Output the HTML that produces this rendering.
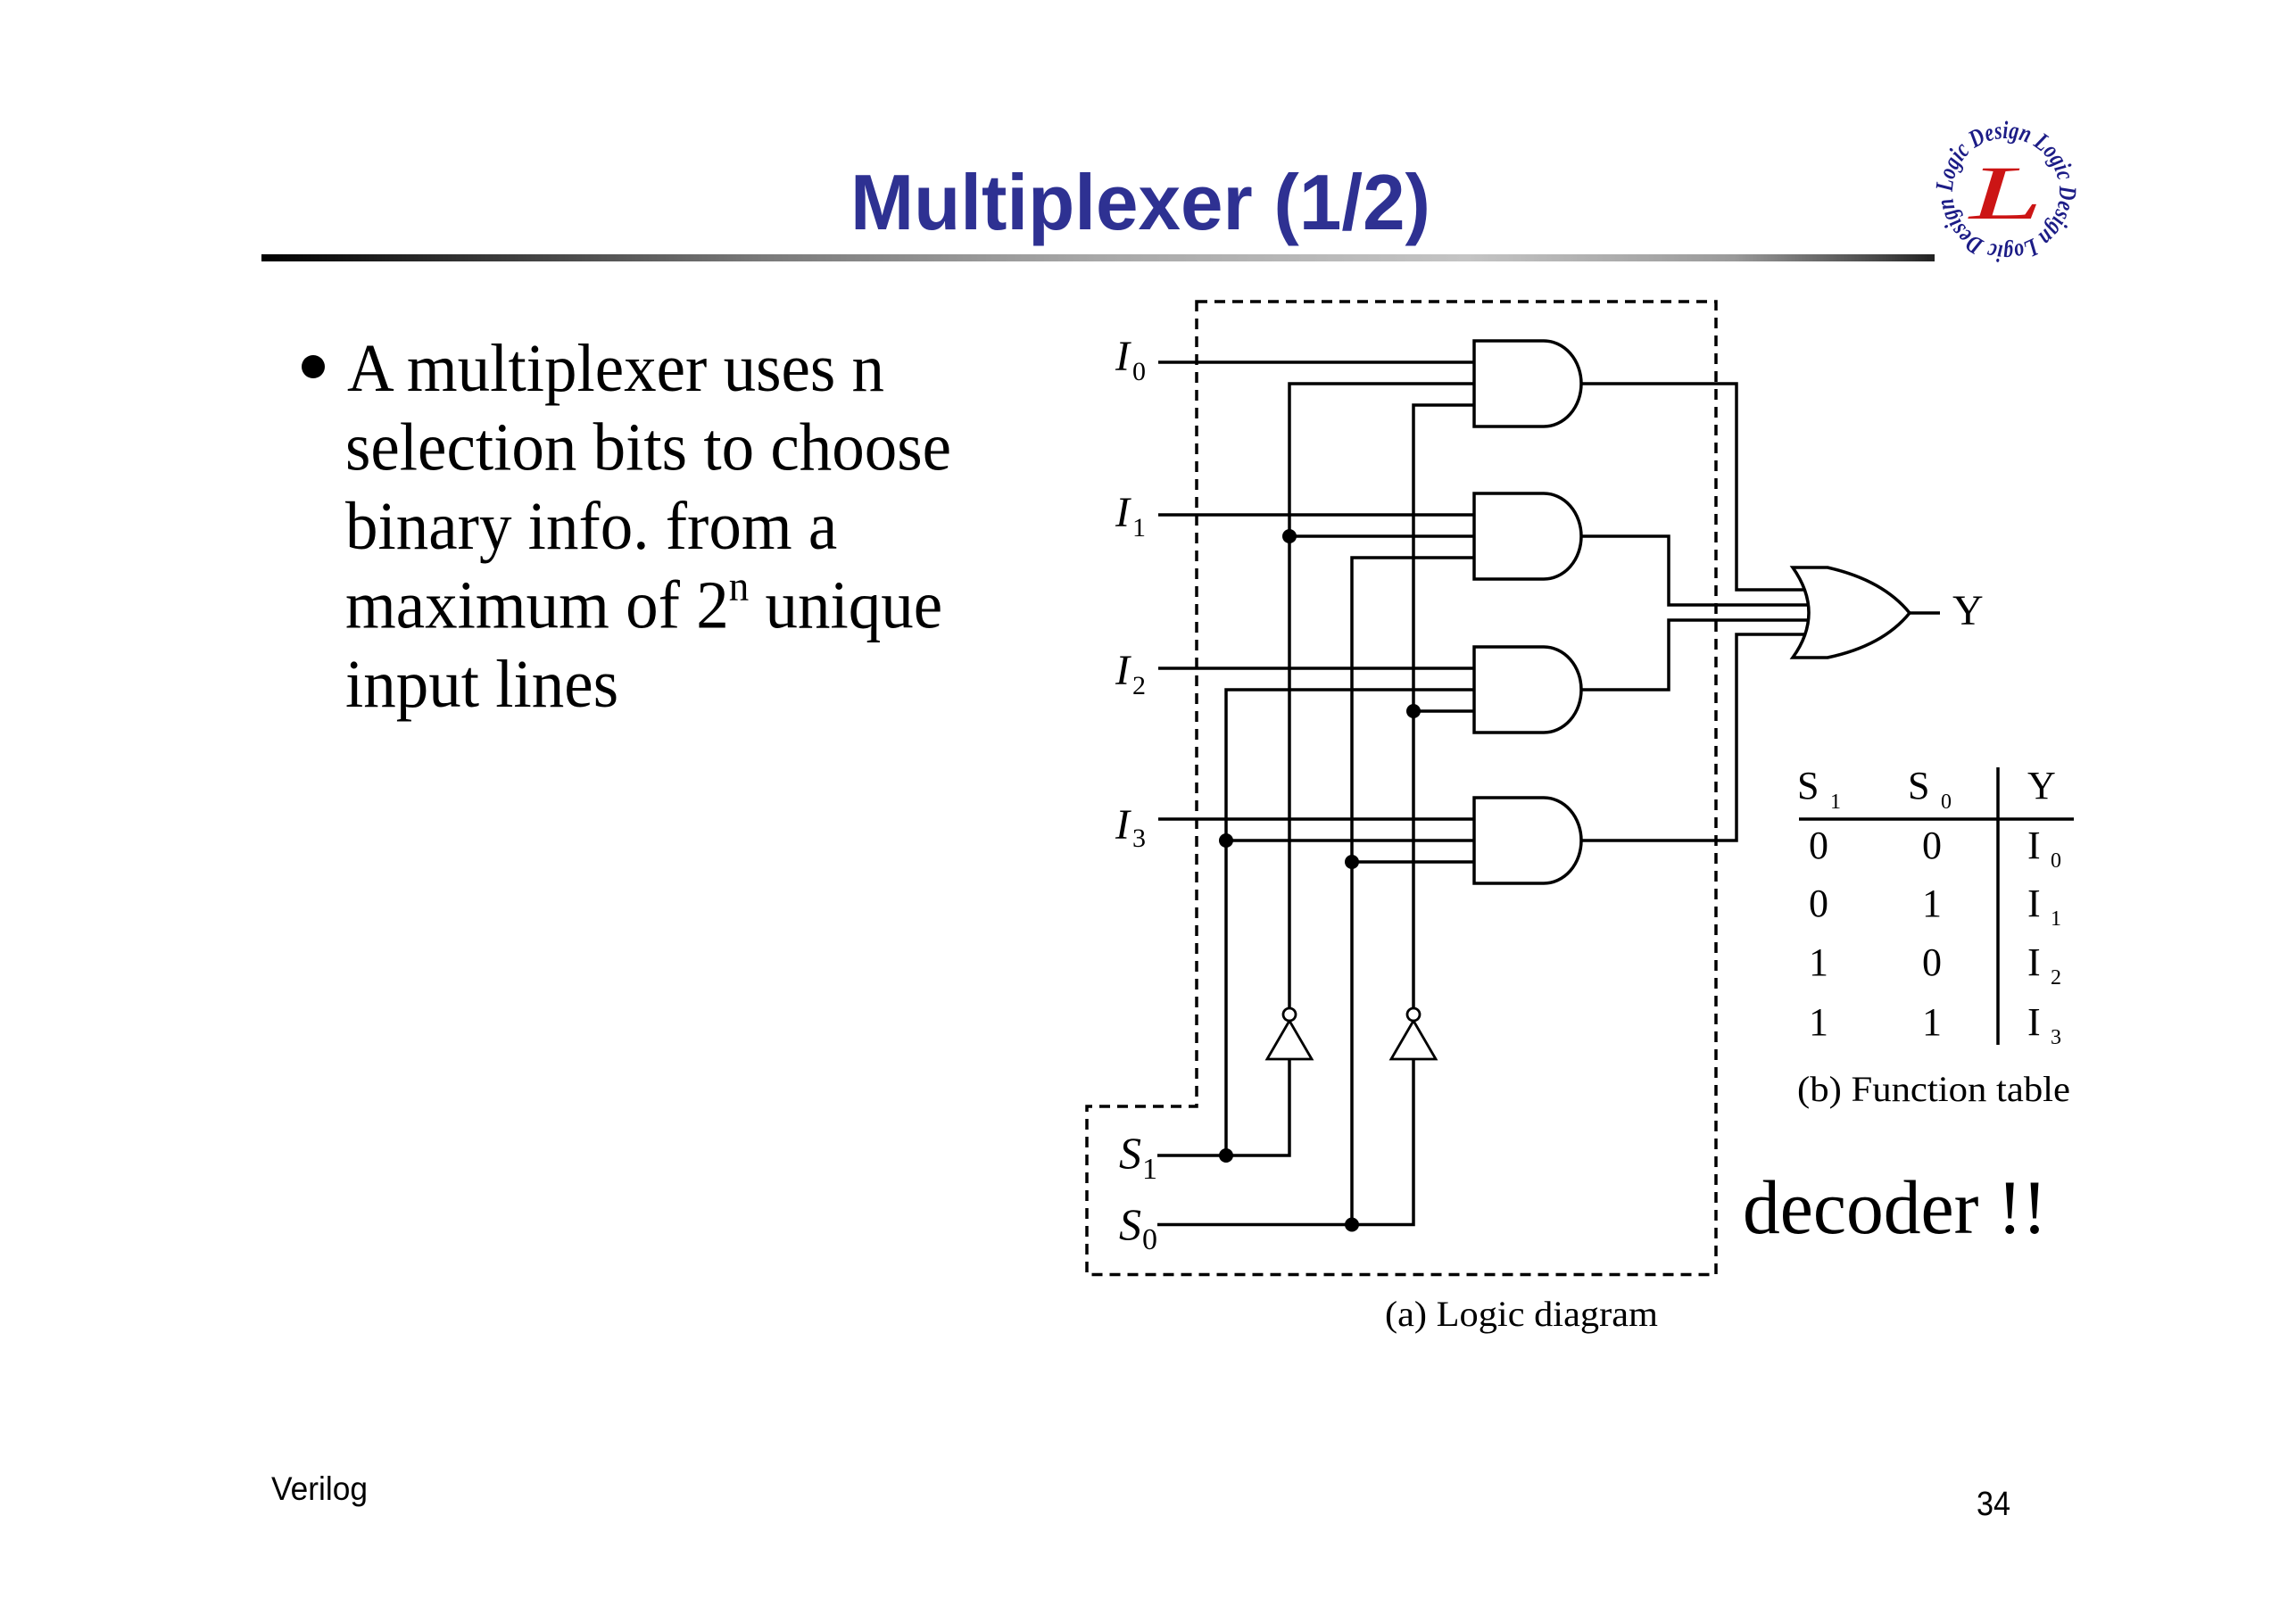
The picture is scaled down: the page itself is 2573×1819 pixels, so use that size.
<!DOCTYPE html>
<html>
<head>
<meta charset="utf-8">
<style>
html,body{margin:0;padding:0;background:#fff;}
svg{display:block;}
.serif{font-family:"Liberation Serif","Times New Roman",serif;}
.sans{font-family:"Liberation Sans",Arial,sans-serif;}
</style>
</head>
<body>
<svg width="2573" height="1819" viewBox="0 0 2573 1819" xmlns="http://www.w3.org/2000/svg">
<defs>
<linearGradient id="bar" x1="0" y1="0" x2="1" y2="0">
<stop offset="0" stop-color="#000"/>
<stop offset="0.08" stop-color="#222"/>
<stop offset="0.3" stop-color="#7a7a7a"/>
<stop offset="0.5" stop-color="#a8a8a8"/>
<stop offset="0.72" stop-color="#c4c4c4"/>
<stop offset="0.88" stop-color="#9a9a9a"/>
<stop offset="0.97" stop-color="#444"/>
<stop offset="1" stop-color="#222"/>
</linearGradient>
<path id="ring" d="M2188,215 A60,60 0 1,1 2308,215 A60,60 0 1,1 2188,215"/>
</defs>
<rect width="2573" height="1819" fill="#fff"/>

<!-- Title -->
<text class="sans" x="1278" y="257" font-size="88" font-weight="bold" fill="#2e3192" text-anchor="middle" textLength="650" lengthAdjust="spacingAndGlyphs">Multiplexer (1/2)</text>
<rect x="293" y="285" width="1875" height="8" fill="url(#bar)"/>

<!-- Logo -->
<text class="serif" font-size="28" font-style="italic" font-weight="bold" fill="#1c1c86"><textPath href="#ring" textLength="370" lengthAdjust="spacingAndGlyphs">Logic Design Logic Design Logic Design</textPath></text>
<text class="serif" x="2207" y="245" font-size="86" font-style="italic" fill="#cc1515" textLength="82" lengthAdjust="spacingAndGlyphs">L</text>

<!-- Bullet text -->
<circle cx="351" cy="411" r="13" fill="#000"/>
<g class="serif" font-size="73" fill="#000" transform="translate(0,438) scale(1,1.05)">
<text x="389" y="0">A multiplexer uses n</text>
<text x="387" y="84.3">selection bits to choose</text>
<text x="387" y="168.6">binary info. from a</text>
<text x="387" y="252.9">maximum of 2<tspan font-size="45" dy="-29">n</tspan><tspan dy="29"> unique</tspan></text>
<text x="387" y="337.1">input lines</text>
</g>

<!-- Dashed box -->
<path d="M1341,338 H1923 V1428.5 H1218 V1240 H1341 Z" fill="none" stroke="#000" stroke-width="3.5" stroke-dasharray="12 8"/>

<!-- Wires -->
<g fill="none" stroke="#000" stroke-width="3.5">
<path d="M1298,406 H1652"/>
<path d="M1298,577 H1652"/>
<path d="M1298,749 H1652"/>
<path d="M1298,918 H1652"/>
<path d="M1445,1130 V430 H1652"/>
<path d="M1584,1130 V454 H1652"/>
<path d="M1445,601 H1652"/>
<path d="M1515,1372.5 V625 H1652"/>
<path d="M1374,1295 V773 H1652"/>
<path d="M1584,797 H1652"/>
<path d="M1374,942 H1652"/>
<path d="M1515,966 H1652"/>
<path d="M1297,1295 H1445 V1187"/>
<path d="M1297,1372.5 H1584 V1187"/>
<path d="M1772,430 H1946 V661 H2030"/>
<path d="M1772,601 H1870 V678 H2032"/>
<path d="M1772,773 H1870 V695 H2032"/>
<path d="M1772,942 H1946 V711 H2030"/>
<path d="M2140,687 H2174"/>
</g>

<!-- AND gates -->
<g fill="#fff" stroke="#000" stroke-width="3.5">
<path d="M1652,382 H1730 A42,48 0 0 1 1730,478 H1652 Z"/>
<path d="M1652,553 H1730 A42,48 0 0 1 1730,649 H1652 Z"/>
<path d="M1652,725 H1730 A42,48 0 0 1 1730,821 H1652 Z"/>
<path d="M1652,894 H1730 A42,48 0 0 1 1730,990 H1652 Z"/>
<path d="M2009,636 H2048 Q2110,650 2140,687 Q2110,724 2048,737 H2009 Q2045,687 2009,636 Z"/>
</g>

<!-- Inverters -->
<g fill="#fff" stroke="#000" stroke-width="2.8">
<path d="M1445,1144 L1420,1187 H1470 Z"/>
<circle cx="1445" cy="1137" r="7"/>
<path d="M1584,1144 L1559,1187 H1609 Z"/>
<circle cx="1584" cy="1137" r="7"/>
</g>

<!-- Dots -->
<g fill="#000">
<circle cx="1445" cy="601" r="8"/>
<circle cx="1584" cy="797" r="8"/>
<circle cx="1374" cy="942" r="8"/>
<circle cx="1515" cy="966" r="8"/>
<circle cx="1374" cy="1295" r="8"/>
<circle cx="1515" cy="1372.5" r="8"/>
</g>

<!-- Input labels -->
<g class="serif" fill="#000">
<text x="1250" y="415" font-size="48" font-style="italic">I</text>
<text x="1269" y="426" font-size="30">0</text>
<text x="1250" y="590" font-size="48" font-style="italic">I</text>
<text x="1269" y="601" font-size="30">1</text>
<text x="1250" y="767" font-size="48" font-style="italic">I</text>
<text x="1269" y="778" font-size="30">2</text>
<text x="1250" y="940" font-size="48" font-style="italic">I</text>
<text x="1269" y="949" font-size="30">3</text>
<text x="1254" y="1309" font-size="50" font-style="italic">S</text>
<text x="1280" y="1321" font-size="34">1</text>
<text x="1254" y="1389" font-size="50" font-style="italic">S</text>
<text x="1280" y="1400" font-size="34">0</text>
<text x="2188" y="700" font-size="48">Y</text>
<text x="1552" y="1486" font-size="40" textLength="306" lengthAdjust="spacingAndGlyphs">(a) Logic diagram</text>
</g>

<!-- Function table -->
<g stroke="#000" stroke-width="3.5">
<line x1="2239" y1="860" x2="2239" y2="1171"/>
<line x1="2016" y1="918" x2="2324" y2="918"/>
</g>
<g class="serif" fill="#000">
<text x="2014" y="895" font-size="44">S</text>
<text x="2051" y="906" font-size="24">1</text>
<text x="2138" y="895" font-size="44">S</text>
<text x="2175" y="906" font-size="24">0</text>
<text x="2272" y="895" font-size="44">Y</text>
<g font-size="44" text-anchor="middle">
<text x="2038" y="962">0</text><text x="2165" y="962">0</text>
<text x="2038" y="1027">0</text><text x="2165" y="1027">1</text>
<text x="2038" y="1093">1</text><text x="2165" y="1093">0</text>
<text x="2038" y="1160">1</text><text x="2165" y="1160">1</text>
</g>
<text x="2272" y="962" font-size="44">I</text><text x="2298" y="972" font-size="24">0</text>
<text x="2272" y="1027" font-size="44">I</text><text x="2298" y="1037" font-size="24">1</text>
<text x="2272" y="1093" font-size="44">I</text><text x="2298" y="1103" font-size="24">2</text>
<text x="2272" y="1160" font-size="44">I</text><text x="2298" y="1170" font-size="24">3</text>
<text x="2014" y="1234" font-size="40" textLength="306" lengthAdjust="spacingAndGlyphs">(b) Function table</text>
<text x="1953" y="1382" font-size="86" textLength="341" lengthAdjust="spacingAndGlyphs">decoder !!</text>
</g>

<!-- Footer -->
<text class="sans" x="304" y="1681" font-size="37" fill="#000" textLength="108" lengthAdjust="spacingAndGlyphs">Verilog</text>
<text class="sans" x="2215" y="1698" font-size="38" fill="#000" textLength="38" lengthAdjust="spacingAndGlyphs">34</text>
</svg>
</body>
</html>
